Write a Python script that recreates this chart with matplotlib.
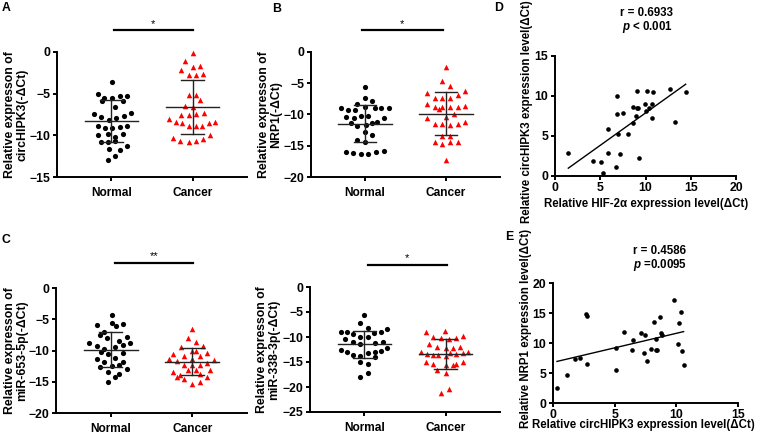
import numpy as np
import matplotlib
matplotlib.use("Agg")
import matplotlib.pyplot as plt
import matplotlib.transforms as mtransforms

plt.rcParams['font.family'] = ['Liberation Sans', 'DejaVu Sans']
plt.rcParams['font.weight'] = 'bold'
plt.rcParams['axes.labelweight'] = 'bold'
plt.rcParams['mathtext.fontset'] = 'custom'
plt.rcParams['mathtext.it'] = 'Liberation Sans:italic:bold'
plt.rcParams['mathtext.rm'] = 'Liberation Sans:bold'

groups = ['Normal', 'Cancer']

# A : circHIPK3
a_norm_dx = [0.01, -0.17, -0.09, 0.01, 0.10, 0.19, -0.12, 0.14, 0.05, -0.22, -0.13, -0.03, 0.06, 0.15, 0.24, -0.17,
             -0.08, 0.01, 0.10, 0.19, -0.17, -0.04, 0.05, 0.14, -0.13, -0.04, 0.05, 0.19, -0.03, 0.10, 0.05, -0.04]
a_norm = [-3.56, -5.08, -5.48, -5.56, -5.24, -5.24, -5.84, -5.84, -6.64, -7.48, -7.76, -8.16, -7.96, -7.68, -7.36, -8.84,
          -9.08, -9.08, -8.96, -8.84, -9.96, -9.88, -10.16, -9.88, -10.84, -10.76, -10.68, -11.24, -11.64, -11.76, -12.44, -12.96]
a_canc_dx = [0.00, -0.09, -0.14, 0.00, 0.09, -0.05, 0.04, 0.13, -0.05, 0.04, 0.09, -0.09, 0.00, -0.14, -0.04, 0.04,
             0.14, -0.29, -0.21, -0.13, -0.04, 0.04, 0.12, 0.20, 0.28, -0.24, -0.15, -0.05, 0.04, 0.13, 0.22]
a_canc = [-0.16, -1.08, -2.16, -1.76, -1.68, -2.76, -2.76, -2.68, -5.16, -5.16, -5.8, -6.48, -6.64, -7.56, -7.56, -7.48,
          -7.28, -8.04, -8.36, -8.56, -8.88, -8.88, -8.84, -8.48, -8.36, -10.36, -10.64, -10.76, -10.64, -10.44, -9.96]
a_mean = [-8.3, -6.64]
a_sd = [2.5, 3.24]

# B : NRP1
b_norm_dx = [0.00, 0.00, 0.09, -0.10, -0.30, -0.21, -0.12, 0.00, 0.12, 0.20, 0.29, -0.24, -0.14, -0.05, 0.04, 0.23,
             -0.18, -0.10, 0.01, 0.09, 0.15, 0.00, 0.09, -0.10, 0.00, -0.24, -0.15, -0.05, 0.04, 0.13, 0.23]
b_norm = [-5.55, -7.41, -7.84, -8.37, -8.98, -9.25, -9.25, -8.85, -8.98, -8.98, -8.98, -10.35, -10.61, -10.19, -10.19, -10.51,
          -11.41, -11.79, -11.68, -11.41, -11.25, -12.85, -13.28, -14.08, -14.45, -15.95, -16.21, -16.32, -16.32, -16.05, -15.84]
b_canc_dx = [0.00, -0.05, 0.05, -0.23, 0.24, 0.15, -0.14, -0.05, 0.05, -0.23, -0.14, -0.09, -0.05, 0.05, 0.15, 0.24,
             -0.23, 0.00, 0.10, -0.14, -0.05, 0.05, 0.15, 0.24, -0.05, 0.05, -0.14, -0.05, 0.05, 0.15, 0.00]
b_canc = [-2.45, -4.64, -5.39, -6.51, -6.24, -6.88, -7.31, -7.41, -7.31, -8.37, -8.75, -9.12, -8.85, -8.85, -8.85, -8.59,
          -10.61, -10.35, -9.92, -11.57, -11.57, -11.68, -11.57, -11.25, -13.39, -13.39, -14.35, -14.77, -14.45, -14.35, -17.28]
b_mean = [-11.47, -9.87]
b_sd = [3.0, 3.4]

# C : miR-653-5p
c_norm_dx = [0.01, -0.17, 0.01, 0.06, 0.15, -0.08, -0.13, -0.04, 0.20, 0.10, 0.24, -0.26, -0.17, -0.08, 0.05, 0.15,
             -0.12, -0.03, 0.15, -0.17, 0.05, -0.08, 0.15, -0.13, 0.01, 0.10, 0.20, -0.03, 0.10, 0.05, -0.03]
c_norm = [-4.32, -5.92, -5.65, -6.03, -5.81, -6.99, -7.52, -7.95, -7.79, -8.43, -8.85, -8.85, -9.23, -9.76, -9.49, -9.12,
          -10.19, -10.56, -10.45, -11.36, -11.15, -11.89, -11.89, -12.59, -12.43, -12.32, -12.96, -13.49, -13.81, -14.19, -15.09]
c_canc_dx = [0.00, -0.05, 0.04, -0.14, 0.13, -0.24, -0.10, 0.00, 0.04, 0.09, 0.18, -0.28, -0.19, -0.10, 0.00, 0.00,
             0.09, 0.18, 0.27, -0.24, -0.15, -0.05, 0.04, 0.09, 0.22, -0.19, -0.10, 0.00, 0.09, 0.18]
c_canc = [-6.61, -7.95, -8.69, -9.49, -9.23, -10.56, -10.83, -10.08, -10.03, -10.83, -10.45, -11.36, -11.68, -12.32, -11.36, -12.32,
          -12.32, -11.95, -11.52, -13.39, -13.92, -13.12, -13.12, -13.76, -13.12, -14.19, -14.56, -15.36, -15.09, -14.19]
c_mean = [-9.84, -11.79]
c_sd = [2.75, 2.13]

# C (right) : miR-338-3p
m_norm_dx = [0.00, -0.05, 0.04, -0.29, -0.21, -0.14, 0.12, 0.21, 0.28, -0.24, -0.05, 0.04, -0.14, -0.05, 0.13, 0.23,
             -0.29, -0.21, -0.14, -0.05, 0.04, 0.13, 0.21, 0.28, 0.13, -0.05, 0.04, 0.04, -0.05]
m_norm = [-5.6, -7.27, -8.27, -8.93, -8.93, -9.47, -9.13, -8.93, -8.47, -10.47, -10.07, -10.07, -11.07, -11.47, -11.27, -11.07,
          -12.6, -12.93, -13.6, -13.73, -13.13, -12.93, -12.8, -12.27, -14.07, -15.07, -15.4, -17.27, -18.07]
m_canc_dx = [-0.01, -0.24, 0.22, -0.15, -0.06, 0.04, 0.13, -0.20, -0.10, 0.00, 0.09, 0.18, -0.30, -0.23, -0.15, -0.09,
             0.00, 0.05, 0.13, 0.21, 0.28, -0.24, -0.15, 0.00, 0.09, 0.13, 0.22, -0.10, 0.00, -0.06, 0.04]
m_canc = [-8.73, -9.07, -9.73, -9.93, -10.27, -10.4, -10.27, -11.4, -11.93, -12.27, -12.27, -11.93, -13.07, -13.4, -13.6, -13.6,
          -13.8, -13.27, -13.47, -13.27, -12.93, -15.07, -15.4, -15.6, -15.6, -15.4, -15.07, -16.6, -17.27, -21.27, -20.47]
m_mean = [-11.5, -13.4]
m_sd = [2.77, 3.0]

# D : circHIPK3 vs HIF-2a
d_x = [1.47, 4.24, 5.05, 5.34, 5.82, 5.82, 6.70, 6.81, 6.89, 7.0, 7.18, 7.55, 8.10, 8.58, 8.66,
       8.95, 9.02, 9.02, 9.21, 9.28, 9.94, 10.02, 10.13, 10.42, 10.68, 10.75, 10.87, 12.71, 13.26, 14.44]
d_y = [2.83, 1.87, 1.79, 0.33, 2.83, 5.88, 1.17, 7.71, 10.04, 5.21, 2.75, 7.83, 5.25, 6.58, 8.58,
       7.54, 10.67, 8.46, 8.54, 2.21, 9.0, 8.17, 10.67, 8.46, 8.96, 7.29, 10.46, 10.83, 6.71, 10.46]

# E : NRP1 vs circHIPK3
e_x = [0.32, 1.16, 1.76, 2.22, 2.70, 2.76, 2.78, 5.08, 5.14, 5.73, 6.38, 6.49, 7.16, 7.38, 7.46,
       7.62, 7.97, 8.19, 8.32, 8.38, 8.46, 8.70, 8.78, 8.84, 9.81, 10.16, 10.22, 10.41, 10.43, 10.59]
e_y = [2.5, 4.72, 7.33, 7.5, 14.83, 14.44, 6.55, 9.16, 5.55, 11.83, 8.88, 10.44, 11.66, 8.33, 11.27,
       6.94, 8.99, 13.44, 8.88, 10.72, 8.88, 14.33, 11.66, 11.38, 17.22, 9.88, 13.33, 15.16, 8.6, 6.27]

W, H = 758, 444
fig = plt.figure(figsize=(W / 100, H / 100), dpi=100)


def box(l, t, r, b):
    return [l / W, 1 - b / H, (r - l) / W, (b - t) / H]


def style(ax):
    for s in ['top', 'right']:
        ax.spines[s].set_visible(False)
    for s in ['left', 'bottom']:
        ax.spines[s].set_linewidth(1.4)
    ax.tick_params(direction='out', length=3, width=1.4, labelsize=8.8, pad=2)


def strip(ax, nx, ny, cx, cy, mean, sd, ylim, ylab, lab_x, bar, star, star_y):
    style(ax)
    ax.scatter(np.array(nx), ny, s=14, c='black', marker='o', linewidths=0, zorder=3, clip_on=False)
    ax.scatter(1 + np.array(cx), cy, s=16, c='#ff0000', marker='^', linewidths=0, zorder=3, clip_on=False)
    for i in range(2):
        ax.plot([i - 0.33, i + 0.33], [mean[i]] * 2, color='#222222', lw=1.0, zorder=4)
        ax.plot([i, i], [mean[i] - sd[i], mean[i] + sd[i]], color='#222222', lw=1.0, zorder=4)
        for e in (mean[i] - sd[i], mean[i] + sd[i]):
            ax.plot([i - 0.14, i + 0.14], [e, e], color='#222222', lw=1.0, zorder=4)
    ax.set_xlim(-0.67, 1.67)
    ax.set_ylim(ylim, 0)
    ax.set_yticks(np.arange(ylim, 1, 5))
    ax.set_xticks([0, 1])
    ax.set_xticklabels(groups, fontsize=8.6)
    ax.tick_params(axis='x', pad=4)
    ax.set_ylabel(ylab, fontsize=8.8, linespacing=1.05)
    ax.yaxis.set_label_coords(lab_x, 0.5)
    tr = mtransforms.blended_transform_factory(ax.transData, ax.transAxes)
    ax.plot(bar[:2], [bar[2]] * 2, color='black', lw=1.6, transform=tr, clip_on=False)
    ax.text(sum(bar[:2]) / 2, star_y, star, transform=tr, ha='center', va='baseline',
            fontsize=8, fontweight='normal')


axA = fig.add_axes(box(57, 52, 247, 177))
strip(axA, a_norm_dx, a_norm, a_canc_dx, a_canc, a_mean, a_sd, -15,
      'Relative expresson of\ncircHIPK3(-ΔCt)', -0.148, (0.03, 1.0, 1.176), '*', 1.2)

axB = fig.add_axes(box(311, 52, 500, 177))
strip(axB, b_norm_dx, b_norm, b_canc_dx, b_canc, b_mean, b_sd, -20,
      'Relative expresson of\nNRP1(-ΔCt)', -0.152, (-0.04, 0.96, 1.176), '*', 1.2)

axC = fig.add_axes(box(56, 288, 247, 413))
strip(axC, c_norm_dx, c_norm, c_canc_dx, c_canc, c_mean, c_sd, -20,
      'Relative expresson of\nmiR-653-5p(-ΔCt)', -0.145, (0.05, 1.01, 1.2), '**', 1.228)

axM = fig.add_axes(box(310, 287, 500, 412))
strip(axM, m_norm_dx, m_norm, m_canc_dx, m_canc, m_mean, m_sd, -25,
      'Relative expresson of\nmiR-338-3p(-ΔCt)', -0.155, (0.04, 1.02, 1.176), '*', 1.204)


def corr(ax, x, y, xmax, ymax, xlab, ylab, ylab_pos, xlab_pos, r_txt, p_txt, tpos):
    style(ax)
    ax.scatter(x, y, s=11, c='black', linewidths=0, zorder=3, clip_on=False)
    k, b0 = np.polyfit(x, y, 1)
    xx = np.array([min(x), max(x)])
    ax.plot(xx, k * xx + b0, color='black', lw=1.0)
    ax.set_xlim(0, xmax)
    ax.set_ylim(0, ymax)
    ax.set_xticks(np.arange(0, xmax + 1, 5))
    ax.set_yticks(np.arange(0, ymax + 1, 5))
    ax.tick_params(axis='x', pad=1)
    ax.set_xlabel(xlab, fontsize=8.3, va='top')
    ax.xaxis.set_label_coords(xlab_pos[0], xlab_pos[1])
    ax.set_ylabel(ylab, fontsize=8.3)
    ax.yaxis.set_label_coords(ylab_pos[0], ylab_pos[1])
    ax.text(tpos[0], tpos[1], r_txt, transform=ax.transAxes, ha='center', va='center', fontsize=8.3)
    ax.text(tpos[0], tpos[2], p_txt, transform=ax.transAxes, ha='center', va='center', fontsize=8.3)


axD = fig.add_axes(box(555, 56, 736, 176))
corr(axD, d_x, d_y, 20, 15, 'Relative HIF-2α expression level(ΔCt)',
     'Relative circHIPK3 expression level(ΔCt)', (-0.12, 0.535), (0.503, -0.18),
     'r = 0.6933', r'$\it{p}$ < 0.001', (0.508, 1.3625, 1.242))

axE = fig.add_axes(box(553, 283, 738, 403))
corr(axE, e_x, e_y, 15, 20, 'Relative circHIPK3 expression level(ΔCt)',
     'Relative NRP1 expression level(ΔCt)', (-0.113, 0.625), (0.49, -0.135),
     'r = 0.4586', r'$\it{p}$ =0.0095', (0.578, 1.267, 1.15))

for lab, x, y in [('A', 2, 8), ('B', 272, 8.5), ('D', 494, 8), ('C', 2, 240), ('E', 505, 237)]:
    fig.text(x / W, 1 - y / H, lab, fontsize=8.8, fontweight='bold', ha='left', va='center')

fig.savefig('out.png', dpi=100)
